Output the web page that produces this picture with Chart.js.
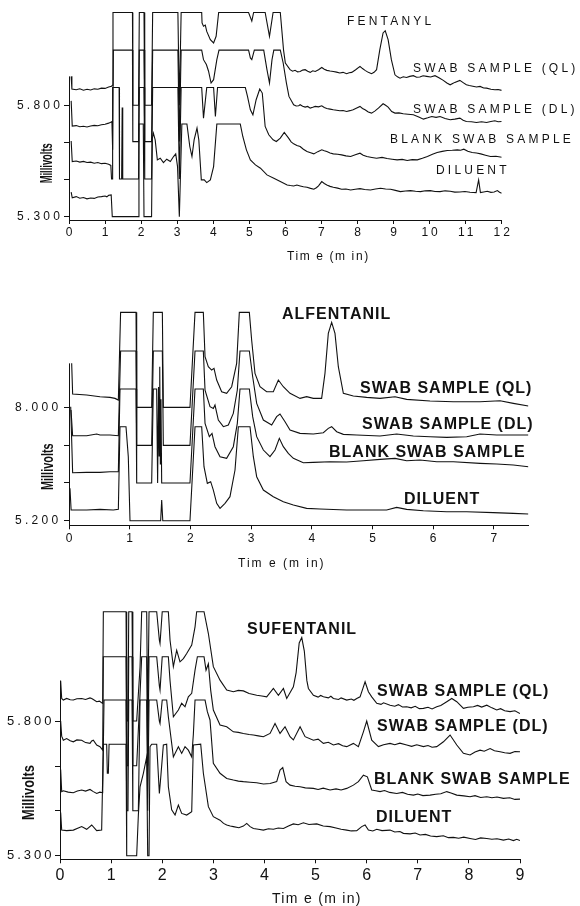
<!DOCTYPE html>
<html>
<head>
<meta charset="utf-8">
<script src="https://cdn.jsdelivr.net/npm/chart.js@4.4.0/dist/chart.umd.min.js"></script>
<style>
  body { margin: 0; background: #fff; width: 580px; height: 906px; position: relative; overflow: hidden; }
  canvas { position: absolute; left: 0; }
</style>
</head>
<body>
<canvas id="fentanyl" width="580" height="270" style="top:0px"></canvas>
<canvas id="alfentanil" width="580" height="300" style="top:280px"></canvas>
<canvas id="sufentanil" width="580" height="326" style="top:580px"></canvas>
<script>
// ---- fentanyl panel: [time (min), millivolts] ----
const fentanylQL = [[0.06,5.93],[0.08,5.873],[0.2,5.870],[0.3,5.874],[0.4,5.868],[0.5,5.872],[0.6,5.869],[0.7,5.874],[0.8,5.872],[0.9,5.877],[1.0,5.876],[1.1,5.882],[1.18,5.885],
  [1.2,5.89],[1.22,6.217],[1.76,6.217],[1.77,5.8],[1.93,5.8],[1.95,6.217],[2.08,6.217],[2.1,5.8],[2.29,5.8],[2.32,6.217],[3.02,6.217],[3.06,5.8],[3.11,6.217],[3.68,6.217],
  [3.69,6.17],[3.73,6.155],[3.78,6.16],[3.82,6.132],[3.92,6.095],[4.01,6.08],[4.08,6.11],[4.15,6.217],[4.98,6.217],[5.07,6.178],[5.12,6.217],[5.44,6.217],[5.56,6.11],[5.66,6.217],[5.86,6.217],
  [5.95,6.048],[6.0,5.99],[6.13,5.96],[6.2,5.953],[6.27,5.957],[6.34,5.95],[6.41,5.952],[6.48,5.958],[6.55,5.96],[6.62,5.953],[6.69,5.948],[6.76,5.955],[6.83,5.952],[6.92,5.96],[7.01,5.97],[7.08,5.962],[7.15,5.957],[7.24,5.954],
  [7.33,5.952],[7.42,5.949],[7.51,5.945],[7.6,5.948],[7.70,5.942],[7.77,5.946],[7.84,5.948],[7.95,5.96],[8.07,5.975],[8.14,5.965],[8.21,5.957],[8.3,5.948],[8.39,5.942],[8.46,5.948],
  [8.53,5.96],[8.62,6.05],[8.71,6.125],[8.77,6.135],[8.85,6.095],[8.94,6.005],[9.04,5.937],[9.11,5.928],[9.18,5.922],[9.27,5.928],[9.36,5.925],[9.45,5.93],[9.55,5.933],[9.64,5.926],[9.73,5.927],[9.82,5.933],[9.92,5.93],
  [10.03,5.927],[10.15,5.933],[10.26,5.924],[10.38,5.912],[10.48,5.9],[10.57,5.892],[10.64,5.898],[10.70,5.903],[10.84,5.912],[10.93,5.902],[11.02,5.892],[11.1,5.889],[11.2,5.886],[11.30,5.882],[11.4,5.885],
  [11.5,5.878],[11.58,5.877],[11.7,5.872],[11.81,5.87],[11.9,5.871],[12.0,5.867]];
const fentanylDL = [[0.06,5.82],[0.09,5.707],[0.2,5.709],[0.3,5.704],[0.4,5.706],[0.5,5.703],[0.6,5.707],[0.7,5.71],[0.8,5.708],[0.9,5.713],[1.0,5.715],[1.1,5.72],[1.17,5.725],
  [1.19,5.73],[1.21,5.6],[1.23,6.048],[1.76,6.048],[1.77,5.637],[1.93,5.637],[1.95,6.048],[2.08,6.048],[2.1,5.637],[2.29,5.637],[2.32,6.048],[3.02,6.048],[3.06,5.637],[3.11,6.048],[3.68,6.048],
  [3.73,6.005],[3.81,5.983],[3.87,5.953],[3.94,5.90],[4.01,5.915],[4.10,6.005],[4.16,6.048],[4.98,6.048],[5.03,6.013],[5.07,6.005],[5.14,6.048],[5.40,6.048],[5.49,5.96],[5.56,5.9],[5.63,6.005],[5.68,6.048],[5.86,6.048],
  [5.94,5.99],[6.03,5.9],[6.10,5.84],[6.23,5.8025],[6.3,5.797],[6.37,5.798],[6.41,5.8025],[6.48,5.796],[6.55,5.792],[6.62,5.795],[6.69,5.7875],[6.76,5.791],[6.83,5.795],[6.92,5.793],[7.01,5.798],[7.08,5.79],
  [7.15,5.786],[7.24,5.783],[7.33,5.78],[7.42,5.778],[7.51,5.7755],[7.6,5.777],[7.70,5.7725],[7.79,5.776],[7.88,5.78],[7.98,5.788],[8.07,5.795],[8.14,5.786],[8.21,5.78],[8.3,5.77],[8.39,5.765],[8.48,5.774],
  [8.58,5.7875],[8.71,5.807],[8.78,5.8],[8.85,5.792],[8.95,5.772],[9.04,5.765],[9.15,5.766],[9.27,5.762],[9.4,5.76],[9.55,5.7575],[9.7,5.748],[9.83,5.738],[9.95,5.744],[10.06,5.75],[10.18,5.746],[10.29,5.75],
  [10.43,5.741],[10.57,5.735],[10.7,5.738],[10.84,5.7425],[10.93,5.733],[11.02,5.7275],[11.16,5.726],[11.30,5.723],[11.44,5.726],[11.58,5.723],[11.7,5.727],[11.81,5.7305],[11.9,5.726],[12.0,5.7275]];
const fentanylBlank = [[0.06,5.64],[0.09,5.547],[0.2,5.55],[0.3,5.545],[0.4,5.548],[0.5,5.543],[0.6,5.545],[0.7,5.54],[0.8,5.543],[0.9,5.538],[1.0,5.54],[1.1,5.535],[1.16,5.53],
  [1.18,5.469],[1.2,5.469],[1.21,5.88],[1.39,5.88],[1.40,5.469],[1.46,5.469],[1.475,5.79],[1.49,5.469],[1.93,5.469],[1.95,5.88],[2.08,5.88],[2.1,5.469],[2.29,5.469],[2.32,5.88],[3.02,5.88],[3.06,5.469],[3.11,5.88],
  [3.68,5.88],[3.73,5.7425],[3.82,5.88],[4.01,5.88],[4.06,5.75],[4.12,5.88],[4.89,5.88],[4.95,5.84],[5.03,5.78],[5.10,5.7575],[5.19,5.825],[5.29,5.873],[5.36,5.855],[5.44,5.705],[5.54,5.6675],[5.66,5.645],[5.75,5.6375],[5.86,5.6525],
  [5.97,5.678],[6.09,5.6525],[6.16,5.636],[6.23,5.627],[6.32,5.62],[6.41,5.615],[6.5,5.603],[6.6,5.5925],[6.7,5.587],[6.79,5.582],[6.9,5.592],[7.01,5.6],[7.08,5.596],[7.15,5.5925],[7.24,5.586],[7.33,5.582],[7.45,5.58],
  [7.56,5.5775],[7.68,5.573],[7.81,5.57],[7.94,5.578],[8.07,5.585],[8.16,5.576],[8.26,5.57],[8.4,5.566],[8.53,5.5625],[8.68,5.566],[8.82,5.561],[8.96,5.558],[9.1,5.555],[9.24,5.557],[9.38,5.552],
  [9.52,5.556],[9.66,5.555],[9.8,5.562],[9.94,5.57],[10.08,5.58],[10.21,5.588],[10.35,5.593],[10.49,5.597],[10.63,5.598],[10.77,5.6],[10.86,5.598],[10.95,5.603],[11.06,5.594],[11.18,5.588],[11.3,5.586],[11.42,5.582],
  [11.55,5.576],[11.69,5.57],[11.84,5.571],[12.0,5.567]];
const fentanylDiluent = [[0.06,5.41],[0.09,5.385],[0.2,5.39],[0.3,5.383],[0.4,5.386],[0.5,5.38],[0.6,5.384],[0.7,5.382],[0.8,5.388],[0.9,5.39],[1.0,5.393],[1.05,5.389],[1.1,5.396],[1.17,5.398],
  [1.2,5.3],[1.92,5.3],[1.94,5.716],[2.06,5.716],[2.08,5.3],[2.29,5.3],[2.31,5.65],[2.34,5.675],[2.39,5.645],[2.45,5.555],[2.53,5.5625],[2.62,5.543],[2.71,5.558],[2.81,5.5475],[2.9,5.57],[2.96,5.582],[3.01,5.525],
  [3.06,5.3],[3.13,5.716],[3.27,5.716],[3.35,5.615],[3.41,5.57],[3.47,5.645],[3.55,5.6975],[3.6,5.645],[3.67,5.465],[3.75,5.465],[3.82,5.453],[3.92,5.465],[4.01,5.525],[4.1,5.716],[4.75,5.716],
  [4.82,5.66],[4.92,5.6],[5.03,5.555],[5.17,5.5325],[5.31,5.5175],[5.49,5.4875],[5.68,5.4725],[5.86,5.458],[6.05,5.4425],[6.14,5.44],[6.23,5.438],[6.32,5.442],[6.41,5.438],[6.5,5.434],[6.6,5.432],[6.7,5.427],
  [6.79,5.423],[6.86,5.43],[6.92,5.438],[7.01,5.4575],[7.08,5.449],[7.15,5.4425],[7.24,5.436],[7.33,5.432],[7.45,5.428],[7.56,5.423],[7.68,5.424],[7.81,5.42],[7.94,5.423],[8.07,5.426],[8.2,5.422],[8.36,5.42],
  [8.5,5.424],[8.64,5.4275],[8.78,5.424],[8.92,5.423],[9.05,5.418],[9.19,5.4125],[9.33,5.415],[9.47,5.417],[9.61,5.414],[9.75,5.4125],[9.88,5.416],[10.02,5.417],[10.15,5.413],[10.29,5.4125],[10.43,5.416],
  [10.57,5.414],[10.7,5.41],[10.84,5.411],[10.98,5.413],[11.12,5.4095],[11.29,5.408],[11.36,5.465],[11.41,5.408],[11.5,5.411],[11.6,5.414],[11.7,5.409],[11.79,5.411],[11.88,5.417],[11.94,5.41],[12.0,5.405]];
const fentanylTicksX = [0,1,2,3,4,5,6,7,8,9,10,11,12];
const fentanylTicksY = [5.3,5.467,5.633,5.8];
const fentanylYLabelVals = [5.8,5.3];
const fentanylYLabels = ['5.800','5.300'];

// ---- alfentanil panel ----
const alfentanilQL = [[0.044,9.085],[0.06,8.327],[0.291,8.303],[0.511,8.262],[0.675,8.245],[0.758,8.22],[0.813,8.179],[0.85,10.344],[1.104,10.344],[1.115,7.998],[1.362,7.998],[1.389,10.344],[1.538,10.344],[1.554,7.998],
  [1.993,7.998],[2.076,10.344],[2.213,10.344],[2.241,9.249],[2.295,9.002],[2.35,8.92],[2.389,8.961],[2.433,8.673],[2.515,8.385],[2.597,8.344],[2.68,8.508],[2.762,9.085],[2.806,10.344],[2.971,10.344],
  [3.009,9.661],[3.064,8.838],[3.147,8.508],[3.256,8.385],[3.366,8.385],[3.449,8.673],[3.531,8.508],[3.641,8.344],[3.806,8.22],[3.915,8.262],[4.025,8.22],[4.162,8.22],[4.217,8.838],[4.272,9.825],[4.327,10.097],
  [4.382,9.825],[4.437,9.002],[4.52,8.344],[4.684,8.278],[4.904,8.245],[5.124,8.22],[5.371,8.262],[5.563,8.196],[5.948,8.154],[6.332,8.138],[6.771,8.138],[7.101,8.163],[7.32,8.097],[7.567,8.031]];
const alfentanilDL = [[0.033,7.932],[0.06,7.299],[0.291,7.299],[0.456,7.34],[0.511,7.315],[0.675,7.315],[0.813,7.299],[0.85,9.389],[1.104,9.389],[1.115,7.06],[1.362,7.06],[1.389,9.389],[1.538,9.389],[1.554,7.06],
  [1.993,7.06],[2.076,9.389],[2.213,9.389],[2.241,8.426],[2.323,8.015],[2.378,7.973],[2.405,8.056],[2.46,7.685],[2.543,7.521],[2.625,7.562],[2.707,7.85],[2.773,8.426],[2.817,9.389],[2.971,9.389],
  [3.026,8.755],[3.092,8.097],[3.202,7.685],[3.339,7.562],[3.421,7.768],[3.476,7.834],[3.559,7.644],[3.641,7.439],[3.806,7.356],[4.025,7.34],[4.19,7.373],[4.272,7.48],[4.327,7.521],[4.41,7.397],
  [4.52,7.332],[4.739,7.315],[5.124,7.29],[5.398,7.34],[5.673,7.29],[5.948,7.274],[6.222,7.258],[6.552,7.274],[6.771,7.34],[7.046,7.315],[7.32,7.315],[7.567,7.315]];
const alfentanilBlank = [[0.028,8.015],[0.06,6.385],[0.291,6.393],[0.511,6.393],[0.675,6.41],[0.813,6.41],[0.84,8.451],[1.104,8.451],[1.115,6.13],[1.362,6.13],[1.389,8.451],[1.444,8.451],[1.46,6.13],
  [1.475,8.5],[1.485,6.8],[1.495,9.0],[1.505,6.6],[1.515,8.2],[1.527,6.13],[1.993,6.13],[2.076,8.451],[2.213,8.451],[2.241,7.603],[2.312,7.274],[2.356,7.356],[2.405,7.027],[2.488,6.78],[2.597,6.739],
  [2.707,7.027],[2.773,7.603],[2.817,8.451],[2.971,8.451],[3.026,7.768],[3.092,7.274],[3.202,6.945],[3.311,6.78],[3.394,6.945],[3.465,7.233],[3.531,7.027],[3.613,6.862],[3.696,6.739],[3.86,6.632],
  [4.025,6.64],[4.3,6.657],[4.574,6.648],[4.849,6.681],[5.124,6.714],[5.371,6.739],[5.563,6.681],[5.783,6.698],[6.058,6.657],[6.332,6.657],[6.771,6.616],[7.046,6.599],[7.32,6.574],[7.567,6.533]];
const alfentanilDiluent = [[0.016,6.0],[0.035,5.463],[0.291,5.463],[0.511,5.48],[0.73,5.463],[0.813,5.48],[0.84,7.521],[0.939,7.521],[0.977,6.78],[1.005,5.2],[1.51,5.2],[1.527,5.71],[1.545,5.2],[1.993,5.2],
  [2.076,7.521],[2.186,7.521],[2.224,6.533],[2.279,6.122],[2.334,6.163],[2.378,5.957],[2.433,5.628],[2.488,5.505],[2.57,5.628],[2.652,5.793],[2.735,6.451],[2.79,7.521],[2.982,7.521],[3.037,6.78],
  [3.092,6.286],[3.202,5.957],[3.366,5.793],[3.531,5.669],[3.696,5.587],[3.915,5.505],[4.135,5.488],[4.574,5.463],[4.904,5.463],[5.233,5.463],[5.398,5.529],[5.563,5.48],[5.838,5.447],[6.222,5.422],
  [6.552,5.422],[6.991,5.398],[7.32,5.381],[7.567,5.365]];
const alfentanilTicksX = [0,1,2,3,4,5,6,7];
const alfentanilTicksY = [5.2,6.133,7.067,8.0];
const alfentanilYLabelVals = [8.0,5.2];
const alfentanilYLabels = ['8.000','5.200'];

// ---- sufentanil panel ----
const sufentanilQL = [[0.013,5.95],[0.033,5.884],[0.065,5.878],[0.13,5.884],[0.2,5.879],[0.261,5.878],[0.33,5.883],[0.424,5.884],[0.5,5.88],[0.587,5.886],[0.62,5.884],[0.652,5.88],[0.718,5.872],[0.77,5.874],[0.815,5.868],[0.835,5.866],[0.848,6.206],
  [1.292,6.206],[1.305,5.8],[1.33,5.8],[1.345,6.206],[1.41,6.206],[1.425,5.8],[1.5,5.8],[1.566,6.0],[1.598,6.206],[1.696,6.206],[1.716,5.8],[1.742,6.206],[1.892,6.206],[1.944,6.1],[1.957,6.088],[2.0,6.206],
  [2.12,6.206],[2.153,6.1],[2.218,6.002],[2.283,6.063],[2.348,6.02],[2.414,6.032],[2.479,6.051],[2.577,6.082],[2.642,6.15],[2.674,6.206],[2.818,6.206],[2.903,6.125],[3.0,6.002],[3.131,5.952],[3.262,5.915],
  [3.392,5.909],[3.49,5.914],[3.588,5.912],[3.7,5.902],[3.849,5.896],[3.95,5.893],[4.044,5.89],[4.175,5.921],[4.273,5.896],[4.371,5.921],[4.436,5.884],[4.566,5.927],[4.62,5.98],[4.68,6.09],[4.73,6.11],[4.78,6.06],[4.83,5.95],[4.86,5.921],
  [4.958,5.896],[5.05,5.889],[5.1,5.895],[5.153,5.89],[5.25,5.886],[5.3,5.892],[5.349,5.884],[5.45,5.88],[5.5,5.886],[5.61,5.878],[5.7,5.882],[5.75,5.877],[5.806,5.884],[5.871,5.89],[5.936,5.927],[5.969,5.946],
  [6.034,5.909],[6.099,5.89],[6.197,5.866],[6.28,5.862],[6.33,5.868],[6.458,5.859],[6.55,5.855],[6.62,5.861],[6.7,5.852],[6.784,5.853],[6.87,5.849],[6.95,5.855],[7.03,5.846],[7.11,5.847],[7.2,5.851],[7.28,5.845],
  [7.371,5.853],[7.45,5.858],[7.567,5.872],[7.665,5.884],[7.763,5.872],[7.893,5.847],[7.98,5.851],[8.089,5.853],[8.17,5.858],[8.25,5.852],[8.35,5.859],[8.45,5.849],[8.545,5.841],[8.62,5.846],[8.7,5.838],
  [8.806,5.835],[8.9,5.838],[9.0,5.828]];
const sufentanilDL = [[0.013,5.80],[0.033,5.744],[0.065,5.729],[0.13,5.735],[0.2,5.727],[0.261,5.723],[0.33,5.73],[0.424,5.729],[0.5,5.72],[0.587,5.717],[0.62,5.726],[0.652,5.729],[0.718,5.711],[0.783,5.705],[0.835,5.692],[0.848,6.039],[1.292,6.039],
  [1.305,5.634],[1.33,5.634],[1.345,6.039],[1.41,6.039],[1.425,5.634],[1.5,5.634],[1.566,5.9],[1.598,6.039],[1.696,6.039],[1.716,5.634],[1.742,6.039],[1.892,6.039],[1.944,5.93],[1.957,5.915],[2.0,6.039],
  [2.12,6.039],[2.153,5.95],[2.218,5.816],[2.316,5.841],[2.381,5.866],[2.446,5.853],[2.511,5.89],[2.577,5.903],[2.642,5.989],[2.688,6.039],[2.818,6.039],[2.857,5.989],[2.903,6.013],[2.948,5.915],[3.0,5.841],
  [3.131,5.785],[3.262,5.779],[3.392,5.76],[3.49,5.758],[3.588,5.754],[3.7,5.75],[3.784,5.748],[3.88,5.745],[3.979,5.742],[4.11,5.754],[4.207,5.791],[4.305,5.754],[4.403,5.779],[4.501,5.742],[4.566,5.73],[4.697,5.779],[4.795,5.742],
  [4.958,5.729],[5.05,5.733],[5.153,5.717],[5.25,5.721],[5.349,5.711],[5.45,5.716],[5.53,5.708],[5.61,5.705],[5.74,5.717],[5.838,5.705],[5.936,5.76],[6.001,5.8],[6.099,5.729],[6.23,5.705],[6.33,5.712],
  [6.458,5.717],[6.55,5.712],[6.65,5.718],[6.784,5.711],[6.88,5.706],[6.98,5.712],[7.11,5.705],[7.2,5.709],[7.28,5.703],[7.371,5.705],[7.502,5.723],[7.632,5.748],[7.763,5.711],[7.893,5.68],[8.023,5.674],
  [8.12,5.685],[8.219,5.692],[8.3,5.688],[8.415,5.698],[8.5,5.69],[8.611,5.686],[8.7,5.682],[8.806,5.68],[8.9,5.687],[9.0,5.686]];
const sufentanilBlank = [[0.013,5.62],[0.033,5.538],[0.065,5.541],[0.16,5.536],[0.26,5.534],[0.34,5.54],[0.424,5.544],[0.5,5.54],[0.587,5.546],[0.652,5.538],[0.718,5.531],[0.78,5.536],[0.835,5.534],[0.861,5.878],[1.292,5.878],
  [1.305,5.467],[1.33,5.467],[1.345,5.878],[1.41,5.878],[1.425,5.467],[1.533,5.467],[1.566,5.878],[1.696,5.878],[1.716,5.467],[1.742,5.878],[1.892,5.878],[1.944,5.8],[1.957,5.791],[2.0,5.878],[2.087,5.878],
  [2.12,5.816],[2.218,5.667],[2.316,5.705],[2.381,5.68],[2.446,5.705],[2.511,5.692],[2.577,5.667],[2.609,5.75],[2.642,5.878],[2.838,5.878],[2.883,5.835],[2.935,5.804],[3.0,5.643],[3.131,5.606],[3.262,5.587],
  [3.392,5.581],[3.49,5.577],[3.588,5.575],[3.72,5.573],[3.849,5.571],[3.98,5.566],[4.11,5.568],[4.24,5.575],[4.305,5.618],[4.358,5.627],[4.423,5.575],[4.501,5.562],[4.6,5.558],[4.697,5.556],[4.8,5.552],
  [4.958,5.55],[5.05,5.546],[5.15,5.551],[5.284,5.544],[5.4,5.548],[5.5,5.544],[5.61,5.55],[5.74,5.562],[5.838,5.575],[5.936,5.599],[6.014,5.593],[6.099,5.544],[6.18,5.541],[6.262,5.538],[6.35,5.542],
  [6.45,5.535],[6.588,5.531],[6.7,5.535],[6.8,5.528],[6.915,5.525],[7.0,5.529],[7.1,5.523],[7.241,5.525],[7.35,5.528],[7.45,5.53],[7.567,5.538],[7.65,5.533],[7.763,5.525],[7.9,5.522],[8.023,5.519],
  [8.12,5.523],[8.23,5.516],[8.35,5.519],[8.45,5.515],[8.55,5.518],[8.676,5.513],[8.8,5.515],[8.9,5.509],[9.0,5.51]];
const sufentanilDiluent = [[0.013,5.46],[0.033,5.395],[0.13,5.393],[0.261,5.395],[0.424,5.408],[0.522,5.398],[0.62,5.414],[0.718,5.393],[0.815,5.395],[0.848,5.714],[0.913,5.714],[0.926,5.606],[0.946,5.606],
  [0.96,5.714],[1.292,5.714],[1.305,5.3],[1.5,5.3],[1.533,5.45],[1.566,5.556],[1.631,5.606],[1.696,5.667],[1.716,5.3],[1.742,5.3],[1.761,5.705],[1.794,5.714],[1.892,5.714],[1.944,5.531],[1.975,5.6],
  [2.022,5.711],[2.087,5.714],[2.12,5.556],[2.185,5.47],[2.251,5.451],[2.316,5.488],[2.381,5.457],[2.479,5.451],[2.577,5.463],[2.609,5.711],[2.753,5.714],[2.805,5.606],[2.903,5.482],[3.0,5.445],
  [3.131,5.432],[3.2,5.42],[3.262,5.414],[3.33,5.41],[3.392,5.408],[3.5,5.404],[3.588,5.41],[3.653,5.42],[3.72,5.408],[3.784,5.401],[3.88,5.398],[3.979,5.395],[4.08,5.4],[4.175,5.398],[4.27,5.403],
  [4.371,5.401],[4.47,5.41],[4.566,5.418],[4.66,5.415],[4.762,5.422],[4.87,5.416],[5.023,5.418],[5.15,5.41],[5.284,5.408],[5.4,5.403],[5.5,5.398],[5.61,5.395],[5.7,5.392],[5.806,5.393],[5.903,5.408],
  [5.969,5.414],[6.034,5.395],[6.12,5.392],[6.197,5.398],[6.3,5.393],[6.458,5.395],[6.55,5.388],[6.65,5.39],[6.719,5.383],[6.85,5.381],[6.95,5.384],[7.045,5.377],[7.15,5.379],[7.25,5.373],[7.371,5.371],
  [7.5,5.374],[7.6,5.367],[7.697,5.368],[7.8,5.365],[7.9,5.369],[8.023,5.364],[8.13,5.36],[8.23,5.366],[8.35,5.364],[8.45,5.361],[8.55,5.363],[8.676,5.358],[8.78,5.362],[8.871,5.356],[8.937,5.361],[9.0,5.356]];
const sufentanilTicksX = [0,1,2,3,4,5,6,7,8,9];
const sufentanilTicksY = [5.3,5.467,5.633,5.8];
const sufentanilYLabelVals = [5.8,5.3];
const sufentanilYLabels = ['5.800','5.300'];

const SANS = '"Liberation Sans", Arial, sans-serif';
const INK = '#111';

// draws axis line, tick labels, axis titles and trace names
function decor(p) {
  return {
    id: 'decor',
    afterDraw(chart) {
      const ctx = chart.ctx, xs = chart.scales.x, ys = chart.scales.y, a = chart.chartArea;
      ctx.save();
      ctx.strokeStyle = INK; ctx.fillStyle = INK; ctx.lineWidth = 1;
      ctx.beginPath();
      ctx.moveTo(a.left + 0.5, ys.getPixelForValue(p.series[0][0][1]));
      ctx.lineTo(a.left + 0.5, a.bottom);
      ctx.stroke();

      ctx.textBaseline = 'middle';
      ctx.textAlign = 'left';
      ctx.font = p.yFont; ctx.letterSpacing = p.ySpacing + 'px';
      p.yLabelVals.forEach((v, i) => ctx.fillText(p.yLabels[i], p.yLabelX, ys.getPixelForValue(v)));

      ctx.textAlign = 'center';
      ctx.font = p.xFont; ctx.letterSpacing = p.xSpacing + 'px';
      p.xTicks.forEach(v => ctx.fillText(String(v), xs.getPixelForValue(v) + p.xSpacing / 2, p.xLabelY));

      ctx.textAlign = 'left';
      ctx.font = p.titleFont; ctx.letterSpacing = p.titleSpacing + 'px';
      ctx.fillText('Tim e (m in)', p.titleX, p.titleY);

      ctx.font = p.nameFont; ctx.letterSpacing = p.nameSpacing + 'px';
      p.names.forEach(n => ctx.fillText(n[0], n[1], n[2]));

      ctx.letterSpacing = '0px';
      ctx.font = p.mvFont;
      ctx.translate(p.mvX, p.mvY);
      ctx.rotate(-Math.PI / 2);
      const w = ctx.measureText('Millivolts').width;
      ctx.scale(p.mvLen / w, 1);
      ctx.textAlign = 'center';
      ctx.fillText('Millivolts', 0, 0);
      ctx.restore();
    }
  };
}

function makePanel(id, p) {
  new Chart(document.getElementById(id), {
    type: 'line',
    data: {
      datasets: p.series.map(s => ({
        data: s, borderColor: INK, borderWidth: 1.1, pointRadius: 0, tension: 0, fill: false
      }))
    },
    options: {
      responsive: false, animation: false, events: [],
      layout: { padding: { left: 0, right: p.padRight, top: p.padTop, bottom: 0 } },
      plugins: { legend: { display: false }, tooltip: { enabled: false } },
      scales: {
        x: {
          type: 'linear', min: 0, max: p.xMax,
          afterBuildTicks: s => { s.ticks = p.xTicks.map(v => ({ value: v })); },
          afterFit: s => { s.height = p.xHeight; },
          ticks: { display: false },
          grid: { drawOnChartArea: false, drawTicks: true, tickLength: 4, color: INK },
          border: { display: true, color: INK }
        },
        y: {
          type: 'linear', min: p.yMin, max: p.yMax,
          afterBuildTicks: s => { s.ticks = p.yTicks.map(v => ({ value: v })); },
          afterFit: s => { s.width = p.yWidth; },
          ticks: { display: false },
          grid: { drawOnChartArea: false, drawTicks: true, tickLength: 5, color: INK },
          border: { display: false }
        }
      }
    },
    plugins: [decor(p)]
  });
}

makePanel('fentanyl', {
  series: [fentanylQL, fentanylDL, fentanylBlank, fentanylDiluent],
  xMax: 12, yMin: 5.285, yMax: 6.237, xTicks: fentanylTicksX, yTicks: fentanylTicksY,
  yLabelVals: fentanylYLabelVals, yLabels: fentanylYLabels,
  padRight: 78.3, padTop: 8, yWidth: 69, xHeight: 50,
  yFont: '12px ' + SANS, ySpacing: 3.2, yLabelX: 17,
  xFont: '12px ' + SANS, xSpacing: 3, xLabelY: 232.5,
  titleFont: '12px ' + SANS, titleSpacing: 1.6, titleX: 287, titleY: 256.5,
  nameFont: '12px ' + SANS, nameSpacing: 3.2,
  names: [['FENTANYL', 347, 22], ['SWAB SAMPLE (QL)', 413, 68.5], ['SWAB SAMPLE (DL)', 413, 110], ['BLANK SWAB SAMPLE', 390, 140], ['DILUENT', 436, 171]],
  mvFont: 'bold 16px ' + SANS, mvX: 47.5, mvY: 163.3, mvLen: 40
});

makePanel('alfentanil', {
  series: [alfentanilQL, alfentanilDL, alfentanilBlank, alfentanilDiluent],
  xMax: 7.57, yMin: 5.086, yMax: 10.526, xTicks: alfentanilTicksX, yTicks: alfentanilTicksY,
  yLabelVals: alfentanilYLabelVals, yLabels: alfentanilYLabels,
  padRight: 51.5, padTop: 25, yWidth: 69, xHeight: 54.7,
  yFont: '12px ' + SANS, ySpacing: 3.3, yLabelX: 15,
  xFont: '12px ' + SANS, xSpacing: 0, xLabelY: 259,
  titleFont: '12px ' + SANS, titleSpacing: 2, titleX: 238, titleY: 283.5,
  nameFont: 'bold 16px ' + SANS, nameSpacing: 1,
  names: [['ALFENTANIL', 282, 35], ['SWAB SAMPLE (QL)', 360, 109], ['SWAB SAMPLE (DL)', 362, 145], ['BLANK SWAB SAMPLE', 329, 172.5], ['DILUENT', 404, 220]],
  mvFont: 'bold 17px ' + SANS, mvX: 48.3, mvY: 186.7, mvLen: 46.7
});

makePanel('sufentanil', {
  series: [sufentanilQL, sufentanilDL, sufentanilBlank, sufentanilDiluent],
  xMax: 9, yMin: 5.2866, yMax: 6.231, xTicks: sufentanilTicksX, yTicks: sufentanilTicksY,
  yLabelVals: sufentanilYLabelVals, yLabels: sufentanilYLabels,
  padRight: 60, padTop: 25, yWidth: 60, xHeight: 46.7,
  yFont: '13px ' + SANS, ySpacing: 3, yLabelX: 7,
  xFont: '16px ' + SANS, xSpacing: 0, xLabelY: 296,
  titleFont: '14px ' + SANS, titleSpacing: 1.3, titleX: 272, titleY: 319,
  nameFont: 'bold 16px ' + SANS, nameSpacing: 1,
  names: [['SUFENTANIL', 247, 49.5], ['SWAB SAMPLE (QL)', 377, 112], ['SWAB SAMPLE (DL)', 377, 147], ['BLANK SWAB SAMPLE', 374, 200], ['DILUENT', 376, 237.5]],
  mvFont: 'bold 16px ' + SANS, mvX: 29.5, mvY: 212.5, mvLen: 55
});
</script>
</body>
</html>
